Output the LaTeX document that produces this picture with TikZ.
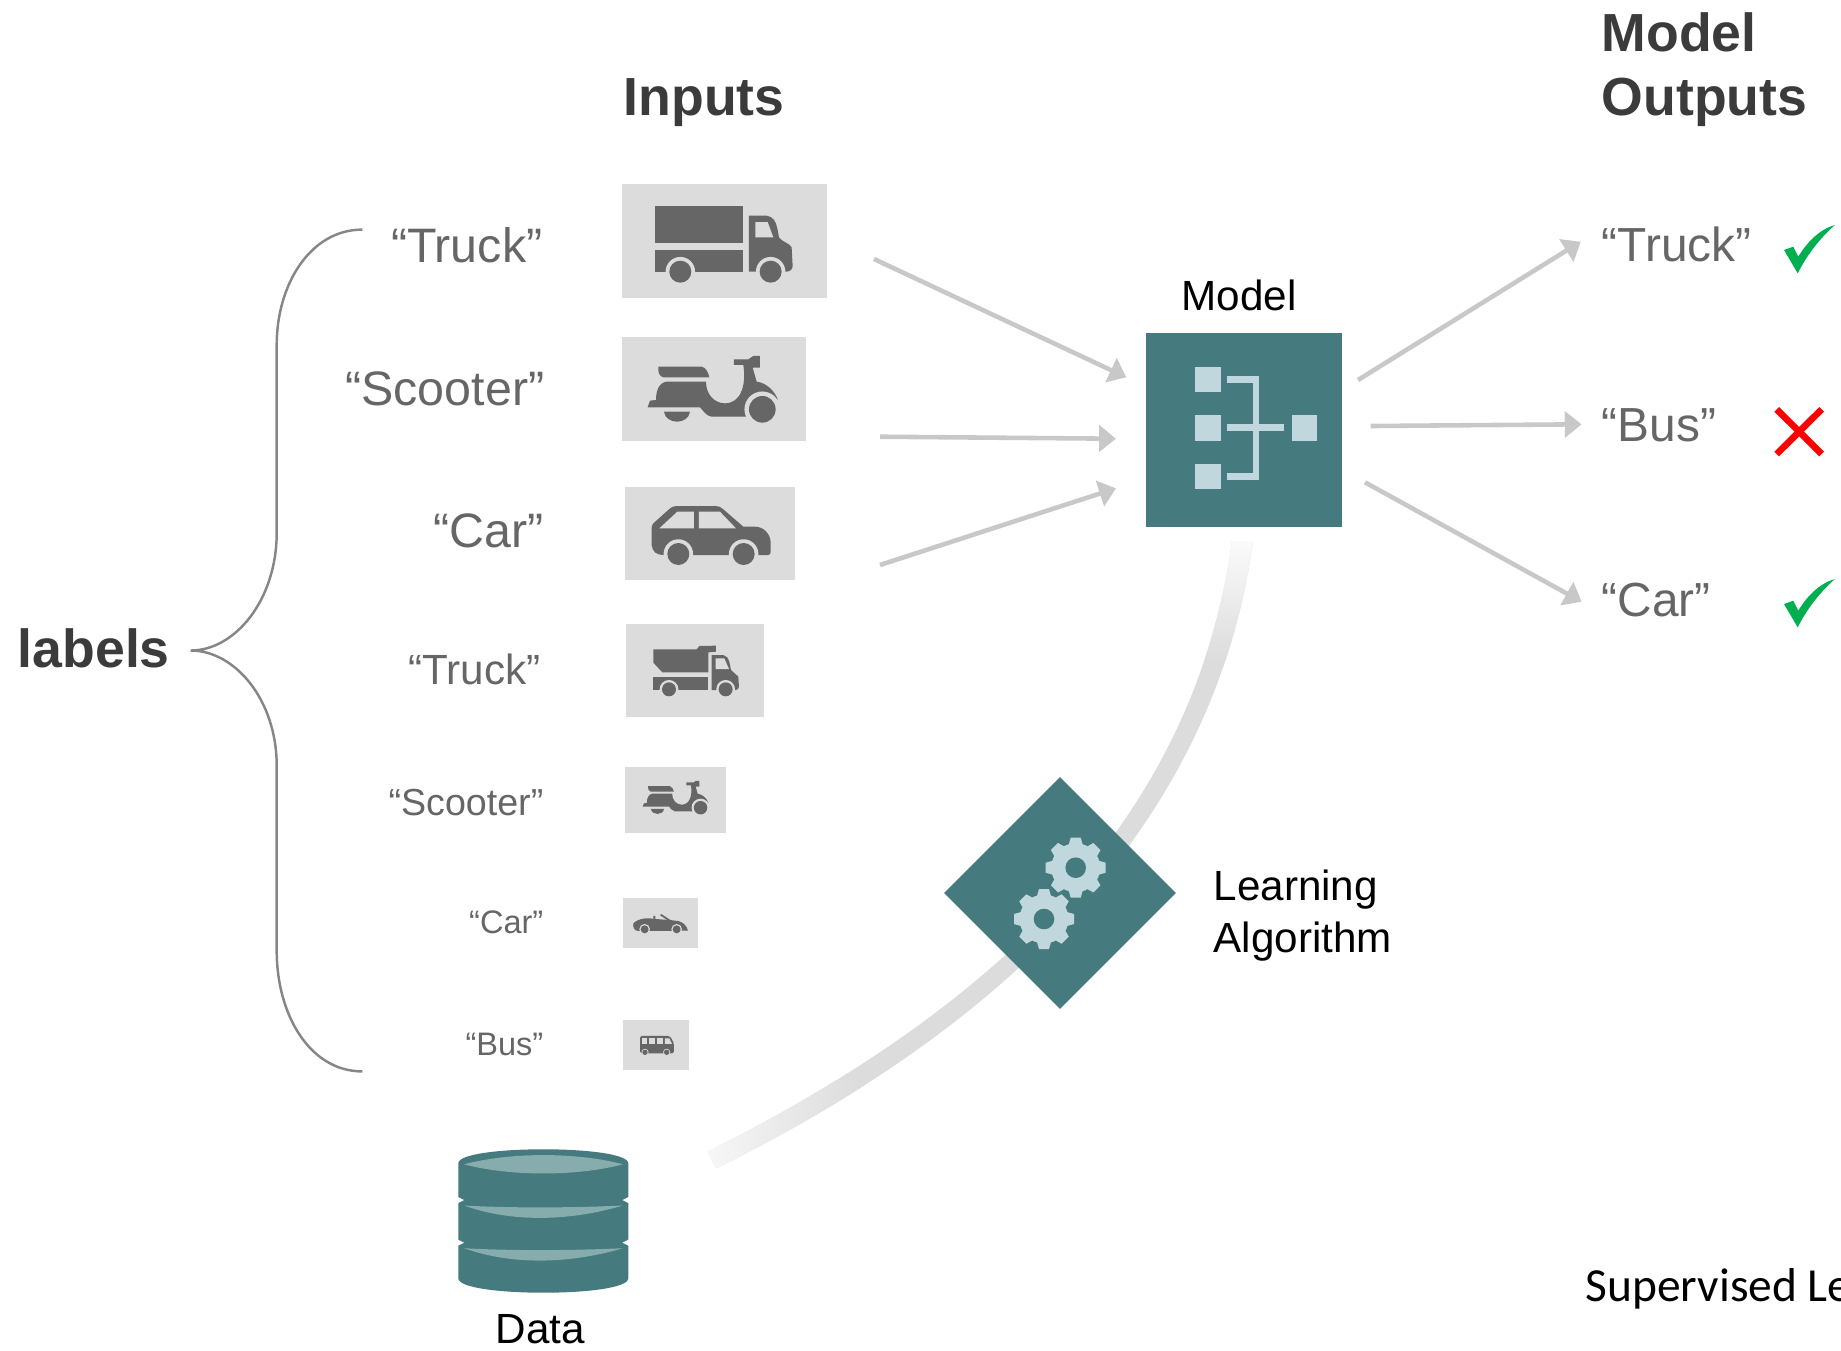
\documentclass[tikz,border=0pt]{standalone}
\usepackage{fontspec}
\setmainfont{Liberation Sans}
\newfontfamily\calibrifont{Carlito}
\usetikzlibrary{arrows.meta,shapes.geometric}
\definecolor{tealbox}{HTML}{457A7E}
\definecolor{tealpale}{HTML}{BFD7DD}
\definecolor{tealmid}{HTML}{86ACAD}
\definecolor{iconbg}{HTML}{DCDCDC}
\definecolor{icondark}{HTML}{666666}
\definecolor{headdark}{HTML}{3B3B3B}
\definecolor{arrowgrey}{HTML}{C8C8C8}
\definecolor{tickgreen}{HTML}{00B050}
\newcommand{\wheelat}[3]{
    \fill[iconbg] (#1,#2) circle ({#3*1.34});
    \fill[icondark] (#1,#2) circle (#3);
}
\tikzset{
  pics/truckicon/.style={code={
    \fill[icondark] (166,138) rectangle (428,250);
    \fill[icondark] (166,270) rectangle (428,335);
    \fill[icondark] (447,167) -- (500,167) .. controls (520,170) and (528,185) .. (532,205) -- (537,232) .. controls (545,245) and (570,250) .. (575,262) -- (578,318) .. controls (578,328) and (570,335) .. (558,335) -- (447,335) -- cycle;
    \fill[iconbg] (466,186) -- (503,186) -- (520,232) -- (466,232) -- cycle;
    \wheelat{241}{335}{33}
    \wheelat{512}{335}{33}
  }},
  pics/scootericon/.style={code={
    \fill[icondark] (175,620) -- (305,620) .. controls (318,622) and (325,638) .. (328,652) -- (190,652) .. controls (178,650) and (173,635) .. (175,620) -- cycle;
    \fill[icondark] (168,720) .. controls (168,690) and (178,668) .. (200,665) -- (318,665) .. controls (318,705) and (345,730) .. (375,730) .. controls (420,730) and (440,680) .. (430,615) -- (402,615) -- (402,598) -- (445,598) -- (460,588) -- (480,588) -- (480,623) -- (458,623) -- (470,665) .. controls (500,668) and (525,695) .. (533,718) -- (500,760) -- (440,770) -- (335,770) .. controls (318,768) and (310,752) .. (300,742) -- (143,742) -- (150,722) -- cycle;
    \fill[icondark] (192,755) -- (270,755) .. controls (265,795) and (197,795) .. (192,755) -- cycle;
    \wheelat{487}{748}{40}
  }},
  pics/caricon/.style={code={
    \fill[icondark] (95,145) -- (95,195) .. controls (97,215) and (110,225) .. (130,225) -- (445,225) .. controls (450,225) and (452,220) .. (452,215) -- (452,185) .. controls (450,160) and (430,140) .. (405,140) -- (370,140) -- (310,88) .. controls (303,80) and (295,78) .. (285,78) -- (170,78) .. controls (160,78) and (152,82) .. (148,87) -- (100,130) .. controls (96,135) and (95,140) .. (95,145) -- cycle;
    \fill[iconbg] (118,145) -- (172,95) -- (222,95) -- (222,145) -- cycle;
    \fill[iconbg] (237,95) -- (300,95) -- (348,145) -- (237,145) -- cycle;
    \wheelat{175}{222}{33}
    \wheelat{371}{222}{33}
  }},
  pics/dumpicon/.style={code={
    \fill[icondark] (130,88) -- (260,88) -- (268,78) -- (318,77) -- (318,95) -- (295,97) -- (295,157) -- (157,157) -- (130,128) -- cycle;
    \fill[icondark] (130,170) rectangle (295,210);
    \fill[icondark] (305,105) -- (340,105) .. controls (350,107) and (356,115) .. (358,125) -- (363,150) -- (385,170) -- (387,200) .. controls (387,205) and (382,210) .. (378,210) -- (305,210) -- cycle;
    \fill[iconbg] (317,115) -- (343,115) -- (357,147) -- (317,147) -- cycle;
    \wheelat{177}{208}{21}
    \wheelat{347}{208}{21}
  }},
  pics/cabrioicon/.style={code={
    \fill[icondark] (70,910) .. controls (85,895) and (115,892) .. (130,897) -- (130,888) -- (136,888) -- (136,897) -- (178,900) -- (205,903) .. controls (222,908) and (230,918) .. (234,932) -- (85,933) .. controls (72,933) and (68,920) .. (70,910) -- cycle;
    \draw[icondark,line width=0.5pt] (152,884) -- (184,905);
    \wheelat{104}{928}{12}
    \wheelat{200}{928}{12}
  }},
  pics/busicon/.style={code={
    \fill[icondark,rounded corners=0.5pt] (90,1248) -- (180,1248) -- (192,1270) -- (192,1300) -- (90,1300) -- cycle;
    \foreach \a in {95,118,141} \fill[iconbg] (\a,1255) rectangle (\a+17,1272);
    \fill[iconbg] (165,1255) -- (178,1255) -- (186,1272) -- (165,1272) -- cycle;
    \wheelat{105}{1297}{8}
    \wheelat{170}{1297}{8}
  }},
  pics/gearicon/.style={code={
    \fill[tealpale] (0,0) circle (24.5);
    \foreach \a in {0,45,...,315} \fill[tealpale,rotate=\a] (-7,-23) -- (-5,-30) -- (5,-30) -- (7,-23) -- cycle;
    \fill[tealbox] (0,0) circle (10.3);
  }},
  pics/tickicon/.style={code={
    \fill[tickgreen] (-26,0) -- (-16.7,-3.3) -- (-11.7,6.7) .. controls (-3,-8) and (10,-21) .. (25,-25) .. controls (10,-12) and (-3,5) .. (-12.3,23.3) -- cycle;
  }}
}
\begin{document}
\begin{tikzpicture}[x=0.01cm,y=-0.01cm,
    head/.style = {anchor=base west, inner sep=0, text=headdark, font=\fontsize{15.25pt}{18pt}\selectfont\bfseries},
    tag/.style = {inner sep=0, text=icondark},
    plain/.style = {anchor=base west, inner sep=0, text=black, font=\fontsize{12pt}{14pt}\selectfont},
    iconbox/.style = {fill=iconbg, inner sep=0},
    flow/.style = {draw=arrowgrey, line width=1.3pt, -{Triangle[length=4.8pt,width=7.4pt]}}]
    \useasboundingbox (0,0) rectangle (1841,1350);
    \node[head] (inputs) at (623,115) {Inputs};
    \node[head] (modelword) at (1601,51) {Model};
    \node[head] (outputs) at (1601,115) {Outputs};
    \node[head] (labels) at (17,667) {labels};
    % brace
    \draw[color=gray!95,line width=0.7pt] (362.3,229.6) .. controls (310,229.6) and (276.7,285) .. (276.7,344.7) -- (276.7,532.7) .. controls (276.7,600) and (235,650.5) .. (190.7,650.5) .. controls (235,650.5) and (276.7,700) .. (276.7,765.6) -- (276.7,950.7) .. controls (276.7,1015) and (310,1071.4) .. (362.3,1071.4);
    % input labels
    \node[tag,anchor=base east,font=\fontsize{13.75pt}{16pt}\selectfont] (lab1) at (543,262) {“Truck”};
    \node[tag,anchor=base east,font=\fontsize{13.75pt}{16pt}\selectfont] (lab2) at (545,405) {“Scooter”};
    \node[tag,anchor=base east,font=\fontsize{13.75pt}{16pt}\selectfont] (lab3) at (544,547) {“Car”};
    \node[tag,anchor=base east,font=\fontsize{12pt}{14pt}\selectfont] (lab4) at (541,684) {“Truck”};
    \node[tag,anchor=base east,font=\fontsize{10.7pt}{13pt}\selectfont] (lab5) at (544,815) {“Scooter”};
    \node[tag,anchor=base east,font=\fontsize{9.25pt}{11pt}\selectfont] (lab6) at (544,933) {“Car”};
    \node[tag,anchor=base east,font=\fontsize{9.25pt}{11pt}\selectfont] (lab7) at (544,1055) {“Bus”};
    % input pictures
    \node[iconbox,minimum width=2.05cm,minimum height=1.14cm] (box1) at (724.5,241) {};
    \node[iconbox,minimum width=1.84cm,minimum height=1.04cm] (box2) at (714,389) {};
    \node[iconbox,minimum width=1.70cm,minimum height=0.93cm] (box3) at (710,533.5) {};
    \node[iconbox,minimum width=1.38cm,minimum height=0.93cm] (box4) at (695,670.5) {};
    \node[iconbox,minimum width=1.01cm,minimum height=0.66cm] (box5) at (675.5,800) {};
    \node[iconbox,minimum width=0.75cm,minimum height=0.50cm] (box6) at (660.5,923) {};
    \node[iconbox,minimum width=0.66cm,minimum height=0.50cm] (box7) at (656,1045) {};
    \pic[scale=0.3333] at (600,160) {truckicon};
    \pic[scale=0.3333] at (600,160) {scootericon};
    \pic[scale=0.3333] at (620,480) {caricon};
    \pic[scale=0.3333] at (610,620) {dumpicon};
    \pic[scale=0.1683] at (618.6,681.8) {scootericon};
    \pic[scale=0.3333] at (610,620) {cabrioicon};
    \pic[scale=0.3333] at (610,620) {busicon};
    % learning band
    \begin{scope}
    \clip (1232,541) .. controls (1195,810) and (1010,1000) .. (707.6,1151.6) -- (716,1168.4) .. controls (1019.5,1019) and (1216,814) .. (1253,541) -- cycle;
    \fill[iconbg] (690,530) rectangle (1270,1180);
    \shade[top color=white!96!iconbg,bottom color=iconbg] (1180,530) rectangle (1270,660);
    \shade[left color=white!85!iconbg,right color=iconbg] (690,1080) rectangle (860,1180);
    \end{scope}
    % model
    \node[fill=tealbox,inner sep=0,minimum width=1.96cm,minimum height=1.94cm] (model) at (1244,430) {};
    \fill[tealpale] (1195,367) rectangle (1220.7,392.3);
    \fill[tealpale] (1195,415.3) rectangle (1220.7,440.7);
    \fill[tealpale] (1195,463.7) rectangle (1220.7,489);
    \fill[tealpale] (1291.7,415.3) rectangle (1317,440.7);
    \fill[tealpale] (1227.3,376) rectangle (1259.3,383);
    \fill[tealpale] (1252.7,376) rectangle (1259.3,480);
    \fill[tealpale] (1227.3,473) rectangle (1259.3,480);
    \fill[tealpale] (1227.3,424.3) rectangle (1284.3,431.3);
    \node[plain] (modellab) at (1181,310.7) {Model};
    % learning algorithm
    \node[diamond,aspect=1,fill=tealbox,inner sep=0,minimum width=2.32cm,minimum height=2.32cm] (algo) at (1060,893) {};
    \pic at (1075.7,867.7) {gearicon};
    \pic at (1044,919) {gearicon};
    \node[plain] (algolab1) at (1213,900) {Learning};
    \node[plain] (algolab2) at (1213,952) {Algorithm};
    % data
    \fill[tealbox] (458.3,1163.3) .. controls (458.3,1144.6) and (628.3,1144.6) .. (628.3,1163.3) -- (628.3,1278.3) .. controls (628.3,1297.5) and (458.3,1297.5) .. (458.3,1278.3) -- cycle;
    \foreach \y in {1200,1242.7} {
      \fill[white] (457,\y-3.5) -- (464,\y) -- (457,\y+3.5) -- cycle;
      \fill[white] (629.5,\y-3.5) -- (622.5,\y) -- (629.5,\y+3.5) -- cycle;
      \fill[tealmid] (464,\y+5.5) .. controls (510,\y+8) and (567,\y+8) .. (623,\y+5.5) .. controls (567,\y+22) and (510,\y+22) .. (464,\y+5.5) -- cycle;
    }
    \fill[tealmid] (464,1164.3) .. controls (510,1152) and (577,1152) .. (623,1164.3) .. controls (577,1176.5) and (510,1176.5) .. (464,1164.3) -- cycle;
    \node[plain] (datalab) at (495,1343) {Data};
    % arrows in and out
    \coordinate (in1) at (874,259);
    \coordinate (in2) at (880,436.7);
    \coordinate (in3) at (880,565);
    \coordinate (tip1) at (1126.3,377.3);
    \coordinate (tip2) at (1116,438.7);
    \coordinate (tip3) at (1116,488.3);
    \coordinate (out1) at (1358,380);
    \coordinate (out2) at (1370.7,426);
    \coordinate (out3) at (1365,482.3);
    \coordinate (end1) at (1580.7,241.7);
    \coordinate (end2) at (1581.6,424.3);
    \coordinate (end3) at (1581.6,601.7);
    \draw[flow] (in1) -- (tip1);
    \draw[flow] (in2) -- (tip2);
    \draw[flow] (in3) -- (tip3);
    \draw[flow] (out1) -- (end1);
    \draw[flow] (out2) -- (end2);
    \draw[flow] (out3) -- (end3);
    % outputs
    \node[tag,anchor=base west,font=\fontsize{13.6pt}{16pt}\selectfont] (res1) at (1601,261.7) {“Truck”};
    \node[tag,anchor=base west,font=\fontsize{13.6pt}{16pt}\selectfont] (res2) at (1601,441.7) {“Bus”};
    \node[tag,anchor=base west,font=\fontsize{13.6pt}{16pt}\selectfont] (res3) at (1601,616.7) {“Car”};
    \pic at (1810,250) {tickicon};
    \pic at (1810,604) {tickicon};
    \draw[red,line width=1.9pt] (1776.7,409.3) -- (1821.7,454);
    \draw[red,line width=1.9pt] (1776.7,454) -- (1821.7,409.3);
    \node[anchor=base west,inner sep=0,font=\calibrifont\fontsize{13.5pt}{16pt}\selectfont] (caption) at (1584.7,1301.7) {Supervised Le};
\end{tikzpicture}
\end{document}
